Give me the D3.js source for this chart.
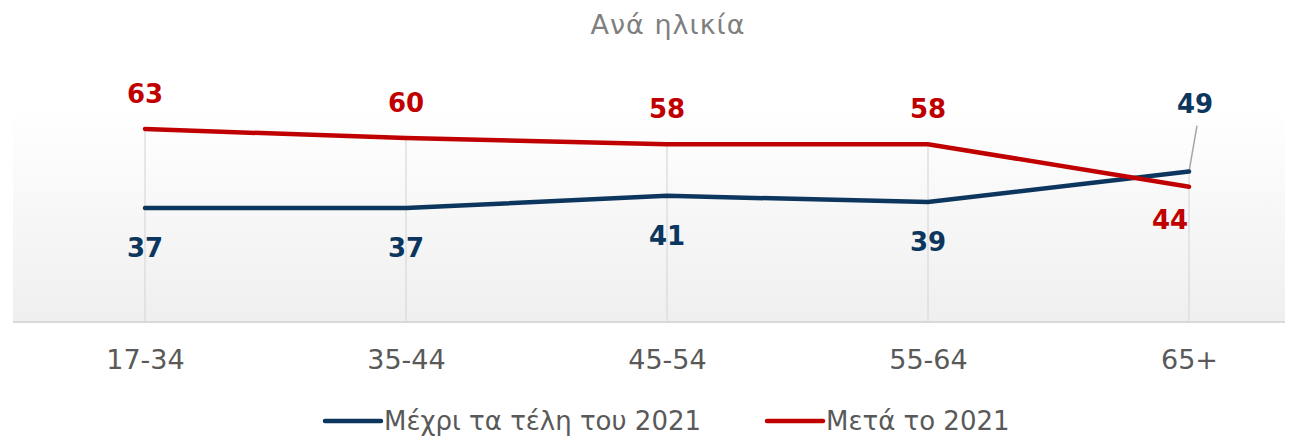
<!DOCTYPE html>
<html>
<head>
<meta charset="utf-8">
<script src="https://cdn.jsdelivr.net/npm/d3@7"></script>
<style>
  body { margin: 0; background: #fff; }
  svg { display: block; font-family: "DejaVu Sans", Verdana, sans-serif; }
</style>
</head>
<body>
<div id="chart"></div>
<script>
const categories = ["17-34", "35-44", "45-54", "55-64", "65+"];
const untilEnd2021 = [37, 37, 41, 39, 49];
const after2021 = [63, 60, 58, 58, 44];
const seriesNames = ["Μέχρι τα τέλη του 2021", "Μετά το 2021"];
const title = "Ανά ηλικία";

const width = 1299, height = 437;
const plot = { left: 13, right: 1285, top: 108, bottom: 322 };

const svg = d3.select("#chart").append("svg")
  .attr("width", width).attr("height", height);

const defs = svg.append("defs");
const grad = defs.append("linearGradient").attr("id", "bg")
  .attr("x1", 0).attr("y1", 0).attr("x2", 0).attr("y2", 1);
grad.append("stop").attr("offset", "0%").attr("stop-color", "#ffffff");
grad.append("stop").attr("offset", "100%").attr("stop-color", "#efefef");

svg.append("rect")
  .attr("x", plot.left).attr("y", plot.top)
  .attr("width", plot.right - plot.left).attr("height", plot.bottom - plot.top)
  .attr("fill", "url(#bg)");

const x = d3.scalePoint().domain(categories).range([145, 1189]);
const y = d3.scaleLinear().domain([0, 63]).range([plot.bottom - 1.5, 129]);

// vertical gridlines, from the higher point down to the baseline
svg.append("g").selectAll("line").data(categories).join("line")
  .attr("x1", d => x(d)).attr("x2", d => x(d))
  .attr("y1", (d, i) => y(Math.max(after2021[i], untilEnd2021[i])))
  .attr("y2", plot.bottom)
  .attr("stroke", "#d9d9d9").attr("stroke-width", 1.2);

svg.append("line")
  .attr("x1", plot.left).attr("x2", plot.right)
  .attr("y1", plot.bottom).attr("y2", plot.bottom)
  .attr("stroke", "#d9d9d9").attr("stroke-width", 2);

const xAxis = svg.append("g")
  .attr("transform", `translate(0,${plot.bottom})`)
  .call(d3.axisBottom(x).tickSize(0));
xAxis.select(".domain").remove();
xAxis.selectAll("text")
  .attr("font-family", "DejaVu Sans, Verdana, sans-serif")
  .attr("font-size", 27).attr("fill", "#595959")
  .attr("dy", null).attr("y", 47);

const line = d3.line().x((d, i) => x(categories[i])).y(d => y(d));

const series = [
  { name: seriesNames[0], values: untilEnd2021, color: "#0d365e" },
  { name: seriesNames[1], values: after2021, color: "#c00000" }
];

// leader line for the 65+ blue label
svg.append("line")
  .attr("x1", x("65+")).attr("y1", y(49))
  .attr("x2", x("65+") + 8).attr("y2", y(49) - 46)
  .attr("stroke", "#a6a6a6").attr("stroke-width", 1.5);

series.forEach(s => {
  svg.append("path").datum(s.values)
    .attr("d", line).attr("fill", "none")
    .attr("stroke", s.color).attr("stroke-width", 4.5)
    .attr("stroke-linecap", "round");
});

const labelFont = 26;
after2021.forEach((v, i) => {
  const cx = x(categories[i]);
  let lx = cx, ly = y(v) - 26;
  if (i === 4) { lx = cx - 19; ly = y(v) + 42; }
  svg.append("text").attr("x", lx).attr("y", ly)
    .attr("text-anchor", "middle").attr("font-size", labelFont)
    .attr("font-weight", "bold").attr("fill", "#c00000").text(v);
});
untilEnd2021.forEach((v, i) => {
  const cx = x(categories[i]);
  let lx = cx, ly = y(v) + 49;
  if (i === 4) { lx = cx + 6; ly = y(v) - 59; }
  svg.append("text").attr("x", lx).attr("y", ly)
    .attr("text-anchor", "middle").attr("font-size", labelFont)
    .attr("font-weight", "bold").attr("fill", "#0d365e").text(v);
});

svg.append("text").attr("x", 668).attr("y", 34)
  .attr("text-anchor", "middle").attr("font-size", 27)
  .attr("letter-spacing", 1)
  .attr("fill", "#7f7f7f").text(title);

const legendX = [325, 767];
series.forEach((s, i) => {
  const g = svg.append("g").attr("transform", `translate(${legendX[i]},421)`);
  g.append("line").attr("x1", 0).attr("x2", 56)
    .attr("stroke", s.color).attr("stroke-width", 4.5).attr("stroke-linecap", "round");
  g.append("text").attr("x", 59).attr("y", 9)
    .attr("font-size", 26).attr("fill", "#595959").text(s.name);
});
</script>
</body>
</html>
